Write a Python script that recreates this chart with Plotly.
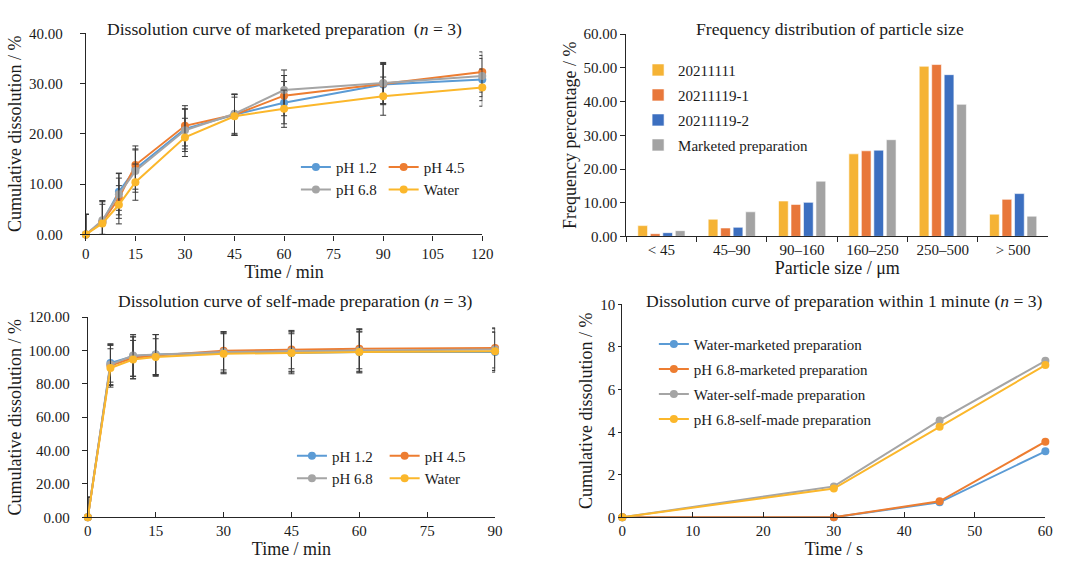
import plotly.graph_objects as go

FONT = "Liberation Serif, Times New Roman, DejaVu Serif, serif"
TXT = "#1a1a1a"
AX = "#262626"

C_BLUE = "#5B9BD5"
C_ORANGE = "#ED7D31"
C_GRAY = "#A5A5A5"
C_YELLOW = "#FBB72B"

BAR_YELLOW = "#F5B335"
BAR_ORANGE = "#E8773A"
BAR_BLUE = "#3C6FC0"
BAR_GRAY = "#A3A3A3"

# ---------- Panel A: marketed preparation ----------
t_marketed = [0, 5, 10, 15, 30, 45, 60, 90, 120]
mk_ph12 = [0, 2.5, 8.5, 13.0, 21.0, 23.8, 26.2, 29.8, 30.8]
mk_ph45 = [0, 2.5, 7.2, 13.8, 21.6, 23.8, 27.6, 30.0, 32.3]
mk_ph68 = [0, 2.8, 8.0, 12.6, 20.7, 24.0, 28.7, 30.1, 31.5]
mk_water = [0, 2.2, 5.9, 10.4, 19.3, 23.5, 25.0, 27.5, 29.2]
mk_err_ph12 = [4.0, 4.0, 3.7, 4.0, 4.0, 4.0, 4.2, 4.0, 4.2]
mk_err_ph45 = [4.0, 4.2, 4.0, 3.8, 4.0, 4.1, 4.0, 4.0, 4.0]
mk_err_ph68 = [4.0, 3.9, 4.1, 4.2, 4.2, 3.9, 4.0, 4.1, 4.1]
mk_err_water = [4.0, 3.8, 3.8, 3.6, 3.8, 3.8, 3.7, 3.8, 3.7]

# ---------- Panel B: particle size distribution ----------
size_classes = ["< 45", "45\u201390", "90\u2013160", "160\u2013250", "250\u2013500", "> 500"]
ps_20211111 = [3.2, 5.1, 10.5, 24.5, 50.5, 6.6]
ps_20211119_1 = [0.8, 2.5, 9.5, 25.4, 51.0, 11.0]
ps_20211119_2 = [1.1, 2.7, 10.1, 25.6, 48.0, 12.7]
ps_marketed = [1.7, 7.3, 16.4, 28.7, 39.2, 6.0]

# ---------- Panel C: self-made preparation ----------
t_self = [0, 5, 10, 15, 30, 45, 60, 90]
sm_ph12 = [0, 92.5, 96.5, 97.5, 98.5, 98.5, 99.0, 99.0]
sm_ph45 = [0, 91.0, 95.5, 97.0, 99.8, 100.5, 101.0, 101.5]
sm_ph68 = [0, 91.5, 97.0, 97.5, 99.0, 99.5, 100.0, 100.5]
sm_water = [0, 89.5, 94.5, 96.0, 98.0, 98.5, 99.0, 99.5]
sm_err_ph12 = [12.0, 11.5, 12.0, 12.0, 12.0, 12.5, 12.5, 12.0]
sm_err_ph45 = [12.0, 12.0, 12.5, 12.5, 11.5, 11.5, 12.0, 12.0]
sm_err_ph68 = [12.0, 12.0, 12.5, 12.0, 12.0, 12.0, 12.5, 12.5]
sm_err_water = [12.0, 11.5, 11.5, 11.0, 12.0, 11.5, 12.0, 11.5]

# ---------- Panel D: within 1 minute ----------
t_sec = [0, 30, 45, 60]
water_marketed = [0, 0, 0.70, 3.10]
ph68_marketed = [0, 0, 0.75, 3.55]
water_selfmade = [0, 1.45, 4.55, 7.35]
ph68_selfmade = [0, 1.35, 4.25, 7.15]

fig = go.Figure()


def line_trace(x, y, name, color, xa, ya, legend, err=None, width=2, msize=8):
    tr = dict(
        x=x, y=y, name=name, mode="lines+markers",
        line=dict(color=color, width=width),
        marker=dict(color=color, size=msize),
        xaxis=xa, yaxis=ya, legend=legend, legendgroup=name + legend,
        cliponaxis=False,
    )
    if err is not None:
        tr["error_y"] = dict(type="data", array=err, symmetric=False,
                             arrayminus=[min(e, v) for e, v in zip(err, y)],
                             visible=True, color="#3a3a3a", thickness=1, width=3)
    return go.Scatter(**tr)


# Panel A
fig.add_trace(line_trace(t_marketed, mk_ph12, "pH 1.2", C_BLUE, "x", "y", "legend", mk_err_ph12))
fig.add_trace(line_trace(t_marketed, mk_ph45, "pH 4.5", C_ORANGE, "x", "y", "legend2", mk_err_ph45))
fig.add_trace(line_trace(t_marketed, mk_ph68, "pH 6.8", C_GRAY, "x", "y", "legend", mk_err_ph68))
fig.add_trace(line_trace(t_marketed, mk_water, "Water", C_YELLOW, "x", "y", "legend2", mk_err_water))

# Panel B
for vals, nm, col in [(ps_20211111, "20211111", BAR_YELLOW),
                      (ps_20211119_1, "20211119-1", BAR_ORANGE),
                      (ps_20211119_2, "20211119-2", BAR_BLUE),
                      (ps_marketed, "Marketed preparation", BAR_GRAY)]:
    fig.add_trace(go.Bar(x=size_classes, y=vals, name=nm, xaxis="x2", yaxis="y2",
                         marker=dict(color=col, line=dict(color="white", width=0.6)),
                         legend="legend3", legendgroup=nm))

# Panel C
fig.add_trace(line_trace(t_self, sm_ph12, "pH 1.2", C_BLUE, "x3", "y3", "legend4", sm_err_ph12))
fig.add_trace(line_trace(t_self, sm_ph45, "pH 4.5", C_ORANGE, "x3", "y3", "legend5", sm_err_ph45))
fig.add_trace(line_trace(t_self, sm_ph68, "pH 6.8", C_GRAY, "x3", "y3", "legend4", sm_err_ph68))
fig.add_trace(line_trace(t_self, sm_water, "Water", C_YELLOW, "x3", "y3", "legend5", sm_err_water))

# Panel D
fig.add_trace(line_trace(t_sec, water_marketed, "Water-marketed preparation", C_BLUE, "x4", "y4", "legend6"))
fig.add_trace(line_trace(t_sec, ph68_marketed, "pH 6.8-marketed preparation", C_ORANGE, "x4", "y4", "legend6"))
fig.add_trace(line_trace(t_sec, water_selfmade, "Water-self-made preparation", C_GRAY, "x4", "y4", "legend6"))
fig.add_trace(line_trace(t_sec, ph68_selfmade, "pH 6.8-self-made preparation", C_YELLOW, "x4", "y4", "legend6"))

W, H = 1082, 569


def px_x(p):
    return p / W


def px_y(p):
    return 1 - p / H


tickfont = dict(family=FONT, size=15, color=TXT)
titlefont = dict(family=FONT, size=18, color=TXT)


def axis(dom, rng=None, dtick=None, fmt=None, ticks="outside", title="", anchor=None, **kw):
    a = dict(domain=dom, showgrid=False, zeroline=False, showline=True,
             linecolor=AX, linewidth=1.2, ticks=ticks, ticklen=5, tickcolor=AX,
             tickfont=tickfont, title=dict(text=title, font=titlefont, standoff=2),
             anchor=anchor, fixedrange=True)
    if rng is not None:
        a["range"] = rng
    if dtick is not None:
        a["dtick"] = dtick
        a["tick0"] = 0
    if fmt is not None:
        a["tickformat"] = fmt
    a.update(kw)
    return a


leg_common = dict(font=dict(family=FONT, size=15, color=TXT), bgcolor="rgba(0,0,0,0)",
                  xanchor="left", yanchor="top", orientation="v",
                  itemclick=False, itemdoubleclick=False)


def leg(x, y, gap=0):
    d = dict(leg_common)
    d.update(x=x, y=y, tracegroupgap=gap)
    return d


fig.update_layout(
    width=W, height=H,
    margin=dict(l=0, r=0, t=0, b=0),
    paper_bgcolor="white", plot_bgcolor="white",
    font=dict(family=FONT, color=TXT),
    barmode="group", bargap=0.29, bargroupgap=0.22,
    xaxis=axis([px_x(83), px_x(485)], [0, 120], 15, title="Time / min", anchor="y"),
    yaxis=axis([px_y(233), px_y(26)], [0, 40], 10, ".2f", title="Cumulative dissolution / %",
               anchor="x", ticklabelstandoff=14),
    xaxis2=axis([px_x(631), px_x(1059)], title="Particle size / \u03bcm", anchor="y2",
                tickson="boundaries", type="category"),
    yaxis2=axis([px_y(235), px_y(27)], [0, 60], 10, ".2f", title="Frequency percentage / %", anchor="x2"),
    xaxis3=axis([px_x(85), px_x(498)], [0, 90], 15, ticks="inside", title="Time / min", anchor="y3"),
    yaxis3=axis([px_y(524), px_y(318)], [0, 120], 20, ".2f", title="Cumulative dissolution / %",
                anchor="x3", ticklabelstandoff=9),
    xaxis4=axis([px_x(627), px_x(1056)], [0, 60], 10, ticks="inside", title="Time / s", anchor="y4"),
    yaxis4=axis([px_y(524), px_y(305)], [0, 10], 2, title="Cumulative dissolution / %", anchor="x4",
                ticklen=3),
    legend=leg(px_x(296), px_y(147)),
    legend2=leg(px_x(385), px_y(147)),
    legend3=leg(px_x(643), px_y(47), 2.5),
    legend4=leg(px_x(292), px_y(444)),
    legend5=leg(px_x(386), px_y(444)),
    legend6=leg(px_x(659), px_y(329), 2.5),
    showlegend=True,
)

titles = [
    ("Dissolution curve of marketed preparation  (<i>n</i> = 3)", 284, 22),
    ("Frequency distribution of particle size", 838, 22),
    ("Dissolution curve of self-made preparation (<i>n</i> = 3)", 296, 301),
    ("Dissolution curve of preparation within 1 minute (<i>n</i> = 3)", 852, 301),
]
for txt, cx, cy in titles:
    fig.add_annotation(text=txt, x=px_x(cx), y=px_y(cy), xref="paper", yref="paper",
                       xanchor="center", yanchor="middle", showarrow=False,
                       font=dict(family=FONT, size=17.6, color=TXT))

fig.write_html("out.html")
